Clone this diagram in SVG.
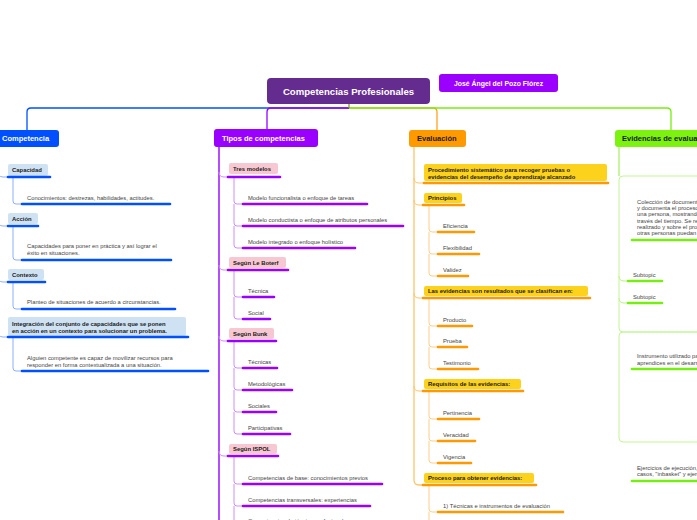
<svg xmlns="http://www.w3.org/2000/svg" width="697" height="520" viewBox="0 0 697 520">
<style>
text{font-family:"Liberation Sans",Arial,sans-serif}
.t{font-size:5.8px;fill:#444}
.c{font-size:5.9px;font-weight:bold;fill:#1a1a1a}
.m{font-size:7.5px;font-weight:bold}
.u{stroke-width:2.6;stroke-linecap:round;fill:none}
.ln{fill:none;stroke-width:1}
.ub{stroke:#0050ff}.up{stroke:#9900ff}.uo{stroke:#ff9900}.ug{stroke:#77ee11}
.lb{stroke:#8cadff}.lp{stroke:#d08cff}.lo{stroke:#ffcf8a}.lg{stroke:#b8f285}
.bb{fill:#cfe2f3}.bp{fill:#f8c8d2}.by{fill:#fcd21c}
</style>
<g id="connectors">
<path d="M349,108 H31 Q27,108 27,112 V130" fill="none" stroke="#0050ff" stroke-width="1.3"/>
<path d="M349,108 H271 Q267,108 267,112 V129" fill="none" stroke="#9900ff" stroke-width="1.3"/>
<path d="M349,108 H433 Q437,108 437,112 V130" fill="none" stroke="#ffa31f" stroke-width="1.3"/>
<path d="M349,108 H667 Q671,108 671,112 V130" fill="none" stroke="#77ee11" stroke-width="1.3"/>
<path d="M349,104 V108" stroke="#8a9a2a" stroke-width="1.3"/>
<!-- Competencia -->
<path class="ln lb" d="M-2,171 Q-2,177 3,177 H8 M-2,220 Q-2,226 3,226 H8 M-2,276 Q-2,282 3,282 H8 M-2,331 Q-2,337 3,337 H8"/>
<path class="ln lb" d="M13,177 V201 Q13,204 16,204 H22 M13,226 V257 Q13,260 16,260 H22 M13,282 V306 Q13,309 16,309 H22 M13,337 V368 Q13,371 16,371 H22"/>
<!-- Tipos -->
<path d="M219,147 V525" fill="none" stroke="#9900ff" stroke-width="1.4"/>
<path class="ln lp" d="M219,172 Q219,177 224,177 H228 M219,265 Q219,270 224,270 H228 M219,336 Q219,341 224,341 H228 M219,451 Q219,456 224,456 H228"/>
<path class="ln lp" d="M234,177 V201 Q234,204 237,204 H243 M234,204 V223 Q234,226 237,226 H243 M234,226 V245 Q234,248 237,248 H243"/>
<path class="ln lp" d="M234,270 V294 Q234,297 237,297 H243 M234,297 V316 Q234,319 237,319 H243"/>
<path class="ln lp" d="M234,341 V365 Q234,368 237,368 H243 M234,368 V387 Q234,390 237,390 H243 M234,390 V409 Q234,412 237,412 H243 M234,412 V431 Q234,434 237,434 H243"/>
<path class="ln lp" d="M234,456 V481 Q234,484 237,484 H243 M234,484 V503 Q234,506 237,506 H243 M234,506 V525"/>
<!-- Evaluación -->
<path d="M414,147 V480 Q414,485 419,485 H423" fill="none" stroke="#ffc46b" stroke-width="1.3"/>
<path class="ln" stroke="#ffc46b" d="M414,178 Q414,183 419,183 H424 M414,200 Q414,205 419,205 H423 M414,293 Q414,298 419,298 H423 M414,386 Q414,391 419,391 H423"/>
<path class="ln lo" d="M429,205 V229 Q429,232 432,232 H438 M429,232 V251 Q429,254 432,254 H438 M429,254 V273 Q429,276 432,276 H438"/>
<path class="ln lo" d="M429,298 V323 Q429,326 432,326 H438 M429,326 V344 Q429,347 432,347 H438 M429,347 V366 Q429,369 432,369 H438"/>
<path class="ln lo" d="M429,391 V416 Q429,419 432,419 H438 M429,419 V438 Q429,441 432,441 H438 M429,441 V460 Q429,463 432,463 H438"/>
<path class="ln lo" d="M429,485 V509 Q429,512 432,512 H438 M429,512 V525"/>
<!-- Evidencias -->
<path d="M619,147 V176" fill="none" stroke="#a6ee60" stroke-width="1.2"/>
<path class="ln lg" d="M619,276 Q619,281 624,281 H628 M619,298 Q619,303 624,303 H628"/>
</g>
<g id="main">
<rect x="267" y="78" width="163" height="26" rx="4" fill="#652c8f"/>
<text x="348.5" y="94.5" text-anchor="middle" font-size="9.6" font-weight="bold" fill="#fff">Competencias Profesionales</text>
</g>
<g id="author">
<rect x="439" y="74" width="119" height="18" rx="3" fill="#9b00ff"/>
<text x="498.5" y="85.5" text-anchor="middle" font-size="6.9" font-weight="bold" fill="#fff">José Ángel del Pozo Flórez</text>
</g>
<g id="competencia">
<rect x="-10" y="130" width="69" height="17" rx="3" fill="#0050ff"/>
<text class="m" x="2" y="141.3" fill="#fff">Competencia</text>
</g>
<g id="capacidad">
<rect class="bb" x="8" y="164" width="40" height="12" rx="2"/>
<text class="c" x="12" y="172.3">Capacidad</text>
<line class="u ub" x1="8" y1="177" x2="50" y2="177"/>
</g>
<g id="capacidad-1">
<text class="t" x="27" y="199.5">Conocimientos: destrezas, habilidades, actitudes.</text>
<line class="u ub" x1="22" y1="204" x2="170" y2="204"/>
</g>
<g id="accion">
<rect class="bb" x="8" y="213" width="30" height="11" rx="2"/>
<text class="c" x="12" y="221">Acción</text>
<line class="u ub" x1="8" y1="226" x2="38" y2="226"/>
</g>
<g id="accion-1">
<text class="t" x="27" y="248">Capacidades para poner en práctica y así lograr el</text>
<text class="t" x="27" y="255">éxito en situaciones.</text>
<line class="u ub" x1="22" y1="260" x2="171" y2="260"/>
</g>
<g id="contexto">
<rect class="bb" x="8" y="269" width="36" height="11" rx="2"/>
<text class="c" x="12" y="277">Contexto</text>
<line class="u ub" x1="8" y1="282" x2="45" y2="282"/>
</g>
<g id="contexto-1">
<text class="t" x="27" y="304">Planteo de situaciones de acuerdo a circunstancias.</text>
<line class="u ub" x1="22" y1="309" x2="175" y2="309"/>
</g>
<g id="integracion">
<rect class="bb" x="8" y="317" width="178" height="19" rx="2"/>
<text class="c" x="12" y="325.5" font-size="5.7">Integración del conjunto de capacidades que se ponen</text>
<text class="c" x="12" y="332.5" font-size="5.7">en acción en un contexto para solucionar un problema.</text>
<line class="u ub" x1="8" y1="337" x2="188" y2="337"/>
</g>
<g id="integracion-1">
<text class="t" x="27" y="360">Alguien competente es capaz de movilizar recursos para</text>
<text class="t" x="27" y="366.5">responder en forma contextualizada a una situación.</text>
<line class="u ub" x1="22" y1="371" x2="208" y2="371"/>
</g>
<g id="tipos">
<rect x="214" y="129" width="104" height="18" rx="3" fill="#9900ff"/>
<text class="m" x="222" y="141" fill="#fff">Tipos de competencias</text>
</g>
<g id="tres-modelos">
<rect class="bp" x="229" y="163" width="49" height="11" rx="2"/>
<text class="c" x="233" y="171" font-size="5.7">Tres modelos</text>
<line class="u up" x1="228" y1="177" x2="280" y2="177"/>
</g>
<g id="tm-1"><text class="t" x="248" y="199.5">Modelo funcionalista o enfoque de tareas</text><line class="u up" x1="243" y1="204" x2="367" y2="204"/></g>
<g id="tm-2"><text class="t" x="248" y="221.5">Modelo conductista o enfoque de atributos personales</text><line class="u up" x1="243" y1="226" x2="403" y2="226"/></g>
<g id="tm-3"><text class="t" x="248" y="243.5">Modelo integrado o enfoque holístico</text><line class="u up" x1="243" y1="248" x2="355" y2="248"/></g>
<g id="le-boterf">
<rect class="bp" x="229" y="257" width="57" height="11" rx="2"/>
<text class="c" x="233" y="265" font-size="5.7">Según Le Boterf</text>
<line class="u up" x1="228" y1="270" x2="288" y2="270"/>
</g>
<g id="lb-1"><text class="t" x="248" y="292.5">Técnica</text><line class="u up" x1="243" y1="297" x2="274" y2="297"/></g>
<g id="lb-2"><text class="t" x="248" y="314.5">Social</text><line class="u up" x1="243" y1="319" x2="270" y2="319"/></g>
<g id="bunk">
<rect class="bp" x="229" y="328" width="45" height="11" rx="2"/>
<text class="c" x="233" y="336" font-size="5.7">Según Bunk</text>
<line class="u up" x1="228" y1="341" x2="276" y2="341"/>
</g>
<g id="bk-1"><text class="t" x="248" y="363.5">Técnicas</text><line class="u up" x1="243" y1="368" x2="277" y2="368"/></g>
<g id="bk-2"><text class="t" x="248" y="385.5">Metodológicas</text><line class="u up" x1="243" y1="390" x2="292" y2="390"/></g>
<g id="bk-3"><text class="t" x="248" y="407.5">Sociales</text><line class="u up" x1="243" y1="412" x2="276" y2="412"/></g>
<g id="bk-4"><text class="t" x="248" y="429.5">Participativas</text><line class="u up" x1="243" y1="434" x2="290" y2="434"/></g>
<g id="ispol">
<rect class="bp" x="229" y="444" width="48" height="10" rx="2"/>
<text class="c" x="233" y="451.3" font-size="5.7">Según ISPOL</text>
<line class="u up" x1="228" y1="456" x2="278" y2="456"/>
</g>
<g id="is-1"><text class="t" x="248" y="479.5">Competencias de base: conocimientos previos</text><line class="u up" x1="243" y1="484" x2="382" y2="484"/></g>
<g id="is-2"><text class="t" x="248" y="501.5">Competencias transversales: experiencias</text><line class="u up" x1="243" y1="506" x2="370" y2="506"/></g>
<g id="is-3"><text class="t" x="248" y="523">Competencias de técnico-profesionales:</text></g>
<g id="evaluacion">
<rect x="409" y="130" width="57" height="17" rx="3" fill="#ff9900"/>
<text class="m" x="417" y="141.3" fill="#1a1a1a">Evaluación</text>
</g>
<g id="procedimiento">
<rect class="by" x="424" y="164" width="183" height="17" rx="2"/>
<text class="c" x="428" y="171.8" font-size="5.6">Procedimiento sistemático para recoger pruebas o</text>
<text class="c" x="428" y="178.6" font-size="5.6">evidencias del desempeño de aprendizaje alcanzado</text>
<line class="u uo" x1="424" y1="183" x2="608" y2="183"/>
</g>
<g id="principios">
<rect class="by" x="424" y="193" width="38" height="10" rx="2"/>
<text class="c" x="428" y="200.3" font-size="5.6">Principios</text>
<line class="u uo" x1="423" y1="205" x2="464" y2="205"/>
</g>
<g id="pr-1"><text class="t" x="443" y="228">Eficiencia</text><line class="u uo" x1="438" y1="232" x2="474" y2="232"/></g>
<g id="pr-2"><text class="t" x="443" y="249.5">Flexibilidad</text><line class="u uo" x1="438" y1="254" x2="479" y2="254"/></g>
<g id="pr-3"><text class="t" x="443" y="271.5">Validez</text><line class="u uo" x1="438" y1="276" x2="468" y2="276"/></g>
<g id="clasifican">
<rect class="by" x="424" y="286" width="164" height="10" rx="2"/>
<text class="c" x="428" y="293.3" font-size="5.45">Las evidencias son resultados que se clasifican en:</text>
<line class="u uo" x1="423" y1="298" x2="590" y2="298"/>
</g>
<g id="cl-1"><text class="t" x="443" y="321.5">Producto</text><line class="u uo" x1="438" y1="326" x2="472" y2="326"/></g>
<g id="cl-2"><text class="t" x="443" y="342.5">Prueba</text><line class="u uo" x1="438" y1="347" x2="467" y2="347"/></g>
<g id="cl-3"><text class="t" x="443" y="364.5">Testimonio</text><line class="u uo" x1="438" y1="369" x2="478" y2="369"/></g>
<g id="requisitos">
<rect class="by" x="424" y="379" width="97" height="10" rx="2"/>
<text class="c" x="428" y="386.3" font-size="5.6">Requisitos de las evidencias:</text>
<line class="u uo" x1="423" y1="391" x2="523" y2="391"/>
</g>
<g id="rq-1"><text class="t" x="443" y="414.5">Pertinencia</text><line class="u uo" x1="438" y1="419" x2="479" y2="419"/></g>
<g id="rq-2"><text class="t" x="443" y="436.5">Veracidad</text><line class="u uo" x1="438" y1="441" x2="475" y2="441"/></g>
<g id="rq-3"><text class="t" x="443" y="458.5">Vigencia</text><line class="u uo" x1="438" y1="463" x2="471" y2="463"/></g>
<g id="proceso">
<rect class="by" x="424" y="473" width="110" height="10" rx="2"/>
<text class="c" x="428" y="480.3" font-size="5.6">Proceso para obtener evidencias:</text>
<line class="u uo" x1="423" y1="485" x2="536" y2="485"/>
</g>
<g id="pc-1"><text class="t" x="443" y="507.5">1) Técnicas e instrumentos de evaluación</text><line class="u uo" x1="438" y1="512" x2="563" y2="512"/></g>
<g id="evidencias">
<rect x="615" y="130" width="110" height="17" rx="3" fill="#7cf20f"/>
<text class="m" x="622" y="141.3" fill="#1a1a1a">Evidencias de evaluación</text>
</g>
<g id="boundary-1"><rect x="619" y="176" width="120" height="156" rx="4" fill="none" stroke="#c4f595" stroke-width="1"/></g>
<g id="boundary-2"><rect x="619" y="332" width="120" height="110" rx="4" fill="none" stroke="#c4f595" stroke-width="1"/></g>
<g id="portafolio">
<text class="t" x="637" y="204">Colección de documentos que registra</text>
<text class="t" x="637" y="210.2">y documenta el proceso de aprendizaje de</text>
<text class="t" x="637" y="216.4">una persona, mostrando su evolución a</text>
<text class="t" x="637" y="222.6">través del tiempo. Se reflexiona sobre lo</text>
<text class="t" x="637" y="228.8">realizado y sobre el proceso, y permite que</text>
<text class="t" x="637" y="235">otras personas puedan valorarlo.</text>
<line class="u ug" x1="632" y1="240" x2="705" y2="240"/>
</g>
<g id="subtopic-1"><text class="t" x="633" y="276.5">Subtopic</text><line class="u ug" x1="628" y1="281" x2="662" y2="281"/></g>
<g id="subtopic-2"><text class="t" x="633" y="298.5">Subtopic</text><line class="u ug" x1="628" y1="303" x2="662" y2="303"/></g>
<g id="instrumento">
<text class="t" x="637" y="358">Instrumento utilizado para evaluar a los</text>
<text class="t" x="637" y="364.5">aprendices en el desarrollo de sus competencias.</text>
<line class="u ug" x1="632" y1="369" x2="705" y2="369"/>
</g>
<g id="ejercicios">
<text class="t" x="637" y="469.5">Ejercicios de ejecución, estudios de</text>
<text class="t" x="637" y="476">casos, "inbasket" y ejercicios grupales.</text>
<line class="u ug" x1="632" y1="481" x2="705" y2="481"/>
</g>
</svg>
